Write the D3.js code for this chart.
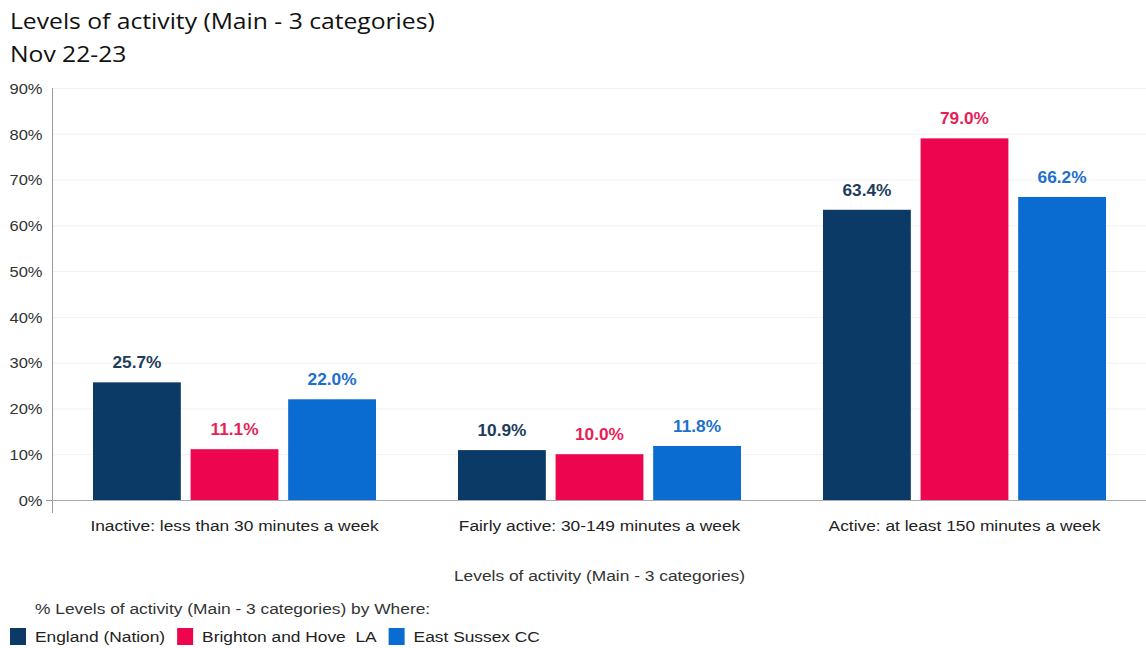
<!DOCTYPE html>
<html><head><meta charset="utf-8">
<script src="https://cdn.jsdelivr.net/npm/d3@7"></script>
<style>
html,body{margin:0;padding:0;background:#fff;}
svg{display:block;}
</style>
</head><body>
<svg id="chart" width="1146" height="648"></svg>
<script>
const categories = ["Inactive: less than 30 minutes a week","Fairly active: 30-149 minutes a week","Active: at least 150 minutes a week"];
const seriesNames = ["England (Nation)","Brighton and Hove  LA","East Sussex CC"];
const england = [25.7, 10.9, 63.4];
const brighton = [11.1, 10.0, 79.0];
const eastSussex = [22.0, 11.8, 66.2];
const yTicks = [0,10,20,30,40,50,60,70,80,90];
const barColors = ["#0b3a66","#ee0550","#0a6bd1"];
const labelColors = ["#1e3d5c","#e81e58","#1c6fcc"];

const seriesValues = [england, brighton, eastSussex];
const svg = d3.select("#chart");
const margin = {left:52, right:1147, top:88, bottom:500};
const FONT = "'Liberation Sans', Arial, sans-serif";

// horizontal stretch helper (reference text is slightly wide)
function stretch(sel, k){
  sel.each(function(){
    const t = d3.select(this);
    const x = +t.attr("x") || 0, y = +t.attr("y") || 0;
    t.attr("transform", `translate(${x},${y}) scale(${k},1) translate(${-x},${-y})`);
  });
}

const y = d3.scaleLinear().domain([0,90]).range([margin.bottom, margin.top]);
const x0 = d3.scaleBand().domain(categories).range([margin.left, margin.right]).paddingInner(0).paddingOuter(0);
const x1 = d3.scaleBand().domain(seriesNames).range([41, 324]).paddingInner(0.1).paddingOuter(0);

// Title
const t1 = svg.append("text").attr("x",10).attr("y",29).attr("font-family","'Open Sans', Lato, sans-serif")
  .attr("font-size",22).attr("fill","#111").text("Levels of activity (Main - 3 categories)");
const t2 = svg.append("text").attr("x",10).attr("y",62).attr("font-family","'Open Sans', Lato, sans-serif")
  .attr("font-size",22).attr("fill","#111").text("Nov 22-23");
const tk = 425 / t1.node().getComputedTextLength();
stretch(t1, tk); stretch(t2, tk);

// gridlines (faint)
svg.append("g").selectAll("line").data(yTicks.filter(d=>d>0)).join("line")
  .attr("x1",margin.left).attr("x2",1146).attr("y1",d=>y(d)+0.5).attr("y2",d=>y(d)+0.5)
  .attr("stroke","#f1f1f1").attr("stroke-width",1);

// y axis
const yAxis = d3.axisLeft(y).tickValues(yTicks).tickFormat(d=>d+"%").tickSize(0).tickPadding(10);
const gy = svg.append("g").attr("transform",`translate(${margin.left+0.5},0)`).call(yAxis);
gy.select(".domain").remove();
gy.selectAll("text").attr("font-family",FONT).attr("font-size",15).attr("fill","#333").attr("dy","0.35em");
stretch(gy.selectAll("text"), 1.1);
svg.append("line").attr("x1",margin.left+0.5).attr("x2",margin.left+0.5).attr("y1",margin.top).attr("y2",513).attr("stroke","#999");
svg.append("line").attr("x1",46).attr("x2",margin.left).attr("y1",margin.bottom+0.5).attr("y2",margin.bottom+0.5).attr("stroke","#999");
// baseline
svg.append("line").attr("x1",margin.left).attr("x2",1146).attr("y1",margin.bottom+0.5).attr("y2",margin.bottom+0.5).attr("stroke","#aaa");

// bars
const groups = svg.append("g").selectAll("g").data(categories).join("g")
  .attr("transform",d=>`translate(${x0(d)},0)`);
groups.each(function(cat, ci){
  const g = d3.select(this);
  seriesNames.forEach((s, si)=>{
    const v = seriesValues[si][ci];
    g.append("rect").attr("x",x1(s)).attr("width",x1.bandwidth())
      .attr("y",y(v)).attr("height",y(0)-y(v)).attr("fill",barColors[si]);
    const lt = g.append("text").attr("x",x1(s)+x1.bandwidth()/2).attr("y",y(v)-14)
      .attr("text-anchor","middle").attr("font-family",FONT)
      .attr("font-weight","bold").attr("font-size",16).attr("fill",labelColors[si])
      .text(v.toFixed(1)+"%");
    stretch(lt, 1.08);
  });
});

// x axis labels
const xAxis = d3.axisBottom(x0).tickSize(0).tickPadding(20);
const gx = svg.append("g").attr("transform",`translate(0,${margin.bottom})`).call(xAxis);
gx.select(".domain").remove();
gx.selectAll("text").attr("font-family",FONT).attr("font-size",15.5).attr("fill","#222");
stretch(gx.selectAll("text"), 1.12);

// axis title
const at = svg.append("text").attr("x",(margin.left+margin.right)/2).attr("y",581).attr("text-anchor","middle")
  .attr("font-family",FONT).attr("font-size",15.5).attr("fill","#333")
  .text("Levels of activity (Main - 3 categories)");
stretch(at, 1.12);

// legend
const lt0 = svg.append("text").attr("x",35).attr("y",614).attr("font-family",FONT)
  .attr("font-size",15.5).attr("fill","#333").text("% Levels of activity (Main - 3 categories) by Where:");
stretch(lt0, 1.12);
let lx = 10;
const lg = svg.append("g");
seriesNames.forEach((s,i)=>{
  lg.append("rect").attr("x",lx).attr("y",628).attr("width",16).attr("height",17).attr("fill",barColors[i]);
  const t = lg.append("text").attr("x",lx+25).attr("y",642).attr("font-family",FONT)
    .attr("font-size",15.5).attr("fill","#222").attr("xml:space","preserve").style("white-space","pre").text(s);
  stretch(t, 1.12);
  lx += 25 + t.node().getComputedTextLength()*1.12 + 12;
});
</script>
</body></html>
